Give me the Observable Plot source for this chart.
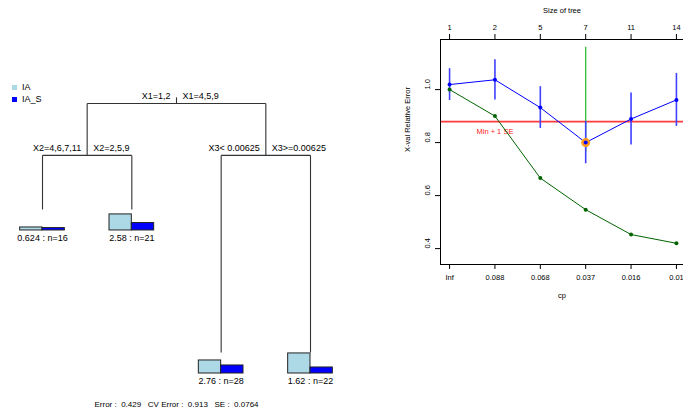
<!DOCTYPE html>
<html>
<head>
<meta charset="utf-8">
<script src="https://cdn.jsdelivr.net/npm/d3@7"></script>
<script src="https://cdn.jsdelivr.net/npm/@observablehq/plot@0.6"></script>
<style>
  html, body { margin: 0; padding: 0; background: white; overflow: hidden; }
  #wrap { position: relative; width: 683px; height: 414px; overflow: hidden; font-family: "Liberation Sans", Arial, Helvetica, sans-serif; }
  #tree { position: absolute; left: 0; top: 0; }
  #cp { position: absolute; left: 400px; top: 0; }
  #legend { position: absolute; left: 12px; top: 82px; font-size: 9px; line-height: 11.5px; }
  #legend .item { display: flex; align-items: center; }
  #legend .sw { width: 5px; height: 5px; margin-right: 5px; }
</style>
</head>
<body>
<div id="wrap">
  <div id="tree"></div>
  <div id="cp"></div>
  <div id="legend"></div>
</div>
<script>
// ---------- Tree data ----------
const nodeIds = [1, 2, 3, 4, 5, 6, 7];
const nodeDev = [1.0, 0.881, 0.881, 0.757, 0.757, 0.429, 0.429];
const splitIds = [1, 2, 3];
const splitLeft = ["X1=1,2", "X2=4,6,7,11", "X3< 0.00625"];
const splitRight = ["X1=4,5,9", "X2=2,5,9", "X3>=0.00625"];
const leafIds = [4, 5, 6, 7];
const leafMean = ["0.624", "2.58", "2.76", "1.62"];
const leafN = [16, 21, 28, 22];
const species = ["IA", "IA_S"];
const speciesColors = ["#ADD8E6", "#0000FF"];
const meanIA = [0.15, 0.80, 0.65, 1.00];
const meanIAS = [0.12, 0.37, 0.40, 0.30];
const treeError = "0.429";
const cvError = "0.913";
const seError = "0.0764";

// ---------- CP data ----------
const treeSize = [1, 2, 5, 7, 11, 14];
const cpLabels = ["Inf", "0.088", "0.068", "0.037", "0.016", "0.01"];
const relError = [1.0, 0.90, 0.666, 0.547, 0.453, 0.42];
const xError = [1.019, 1.037, 0.932, 0.80, 0.889, 0.961];
const xStd = [0.060, 0.076, 0.079, 0.080, 0.098, 0.100];
const minPlus1SE = 0.879;
const bestSize = 7;
const selectLine = [0.76, 1.16];

const FONT = '"Liberation Sans", Arial, Helvetica, sans-serif';

// ---------- Tree layout from structure ----------
const devOf = id => nodeDev[nodeIds.indexOf(id)];
const xOf = {};
leafIds.forEach((id, i) => { xOf[id] = i + 1; });
[...splitIds].reverse().forEach(id => { xOf[id] = (xOf[2 * id] + xOf[2 * id + 1]) / 2; });

const edges = [];
splitIds.forEach(id => {
  const l = 2 * id, r = 2 * id + 1;
  edges.push({x1: xOf[l], y1: devOf(id), x2: xOf[r], y2: devOf(id)});
  edges.push({x1: xOf[l], y1: devOf(id), x2: xOf[l], y2: devOf(l)});
  edges.push({x1: xOf[r], y1: devOf(id), x2: xOf[r], y2: devOf(r)});
});
const splits = splitIds.map((id, i) => ({x: xOf[id], y: devOf(id), left: splitLeft[i], right: splitRight[i]}));
const barScale = 0.046;
const bars = [];
leafIds.forEach((id, i) => {
  const x = xOf[id], y = devOf(id);
  bars.push({x1: x - 0.25, x2: x, y1: y, y2: y + meanIA[i] * barScale, sp: species[0]});
  bars.push({x1: x, x2: x + 0.25, y1: y, y2: y + meanIAS[i] * barScale, sp: species[1]});
});
const leaves = leafIds.map((id, i) => ({x: xOf[id], y: devOf(id), label: `${leafMean[i]} : n=${leafN[i]}`}));
const nb = "\u00A0";
const statsText = `Error :${nb}${nb}${treeError}${nb}${nb}${nb}CV Error :${nb}${nb}${cvError}${nb}${nb}${nb}SE :${nb}${nb}${seError}`;

const treePlot = Plot.plot({
  width: 400,
  height: 414,
  margin: 0,
  x: {domain: [1, 4], range: [42, 310], axis: null},
  y: {domain: [0.429, 1], range: [352, 103], axis: null},
  color: {domain: species, range: speciesColors},
  style: {fontFamily: FONT, fontSize: "9px", background: "transparent", color: "black"},
  marks: [
    Plot.link(edges, {x1: "x1", y1: "y1", x2: "x2", y2: "y2", stroke: "#333", strokeWidth: 1.1}),
    Plot.ruleX(splits.slice(0, 1), {x: "x", y1: "y", y2: d => d.y + 0.013, stroke: "#333", strokeWidth: 1.1}),
    Plot.text(splits, {x: "x", y: "y", text: "left", textAnchor: "end", dx: -6, dy: -7, fill: "black"}),
    Plot.text(splits, {x: "x", y: "y", text: "right", textAnchor: "start", dx: 6, dy: -7, fill: "black"}),
    Plot.rect(bars, {x1: "x1", x2: "x2", y1: "y1", y2: "y2", fill: "sp", stroke: "#222", strokeWidth: 1, dy: 21}),
    Plot.text(leaves, {x: "x", y: "y", text: "label", dy: 29, fill: "black"}),
    Plot.text([statsText], {x: () => 2.5, text: d => d, frameAnchor: "bottom", dy: -8, fontSize: 8, fill: "black"})
  ]
});
document.getElementById("tree").appendChild(treePlot);

// legend
const leg = document.getElementById("legend");
species.forEach((s, i) => {
  const it = document.createElement("div");
  it.className = "item";
  it.innerHTML = `<span class="sw" style="background:${speciesColors[i]}"></span><span>${s}</span>`;
  leg.appendChild(it);
});

// ---------- CP plot ----------
const idx = treeSize.map((d, i) => i + 1);
const cpData = idx.map((x, i) => ({x, rel: relError[i], xe: xError[i], lo: xError[i] - xStd[i], hi: xError[i] + xStd[i]}));
const bestI = treeSize.indexOf(bestSize);

const cpPlot = Plot.plot({
  width: 283,
  height: 414,
  marginLeft: 40,
  marginTop: 39,
  marginBottom: 150,
  marginRight: 0,
  x: {domain: [0.8, 6.2], range: [40, 285]},
  y: {domain: [0.34, 1.189], range: [264, 39]},
  style: {fontFamily: FONT, fontSize: "7.5px", background: "transparent", color: "black", overflow: "visible"},
  marks: [
    Plot.ruleY([minPlus1SE], {stroke: "#ff3b3b", strokeWidth: 1.7}),
    Plot.text(["Min + 1 SE"], {x: () => 2, y: () => minPlus1SE, text: d => d, dy: 10, fill: "#ff2020"}),
    Plot.ruleX([bestI + 1], {y1: selectLine[0], y2: selectLine[1], stroke: "#2fbf2f", strokeWidth: 1.3}),
    Plot.ruleX(cpData, {x: "x", y1: "lo", y2: "hi", stroke: "#4040ff", strokeWidth: 1.6}),
    Plot.line(cpData, {x: "x", y: "rel", stroke: "#006400", strokeWidth: 1}),
    Plot.line(cpData, {x: "x", y: "xe", stroke: "#0000ff", strokeWidth: 1}),
    Plot.dot([cpData[bestI]], {x: "x", y: "xe", r: 4.5, fill: "#ff9a1f", stroke: "none"}),
    Plot.dot(cpData, {x: "x", y: "rel", r: 2, fill: "#006400", stroke: "none"}),
    Plot.dot(cpData, {x: "x", y: "xe", r: 2, fill: "#0000ff", stroke: "none"}),
    Plot.frame({stroke: "black", strokeWidth: 1}),
    Plot.axisX({anchor: "top", ticks: idx, tickFormat: i => treeSize[i - 1], tickSize: 6, tickPadding: 4, label: null}),
    Plot.axisX({anchor: "bottom", ticks: idx, tickFormat: i => cpLabels[i - 1], tickSize: 5, tickPadding: 5, label: null}),
    Plot.axisY({anchor: "left", ticks: [0.4, 0.6, 0.8, 1.0], tickFormat: () => "", tickSize: 5, label: null}),
    Plot.text([0.4, 0.6, 0.8, 1.0], {y: d => d, text: d => d3.format(".1f")(d), frameAnchor: "left", dx: -13, rotate: -90, fill: "black"}),
    Plot.text(["X-val Relative Error"], {text: d => d, frameAnchor: "left", dx: -33, rotate: -90, fill: "black"}),
    Plot.text(["Size of tree"], {text: d => d, frameAnchor: "top", dy: -32, fill: "black"}),
    Plot.text(["cp"], {text: d => d, frameAnchor: "bottom", dy: 33, fill: "black"})
  ]
});
document.getElementById("cp").appendChild(cpPlot);
</script>
</body>
</html>
